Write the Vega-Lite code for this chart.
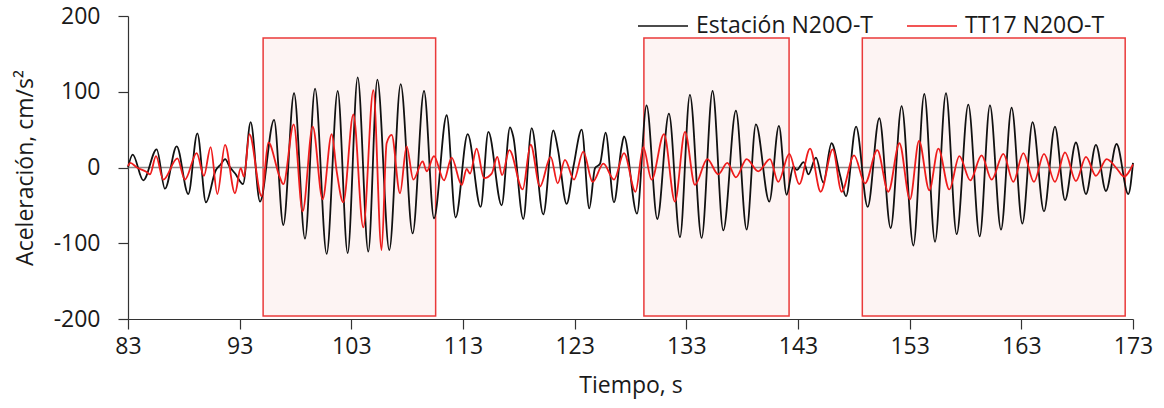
{
  "$schema": "https://vega.github.io/schema/vega-lite/v6.json",
  "width": 1005,
  "height": 303,
  "autosize": {"type": "none"},
  "padding": {"left": 128, "top": 16, "right": 31, "bottom": 89},
  "background": "white",
  "config": {"view": {"stroke": null}, "font": "Open Sans"},
  "datasets": {
    "boxes": [
      {"x0": 95.1, "x1": 110.55, "y0": -196, "y1": 171},
      {"x0": 129.2, "x1": 142.2, "y0": -196, "y1": 171},
      {"x0": 148.76, "x1": 172.3, "y0": -196, "y1": 171}
    ],
    "black": [
      {"t": 83.0, "a": 0}, {"t": 83.42, "a": 17}, {"t": 84.37, "a": -17}, {"t": 85.57, "a": 24},
      {"t": 86.31, "a": -28}, {"t": 87.36, "a": 28}, {"t": 88.4, "a": -35}, {"t": 89.21, "a": 45},
      {"t": 89.98, "a": -46}, {"t": 90.85, "a": -4}, {"t": 91.3, "a": 4}, {"t": 91.7, "a": 11},
      {"t": 92.1, "a": 1}, {"t": 92.6, "a": -8}, {"t": 93.3, "a": -22}, {"t": 93.98, "a": 60},
      {"t": 94.82, "a": -45}, {"t": 96.08, "a": 63}, {"t": 96.91, "a": -76}, {"t": 97.87, "a": 98},
      {"t": 98.85, "a": -94}, {"t": 99.75, "a": 104}, {"t": 100.79, "a": -114}, {"t": 101.78, "a": 101},
      {"t": 102.67, "a": -113}, {"t": 103.57, "a": 119}, {"t": 104.52, "a": -111}, {"t": 105.33, "a": 116},
      {"t": 106.4, "a": -109}, {"t": 107.42, "a": 110}, {"t": 108.49, "a": -87}, {"t": 109.51, "a": 101},
      {"t": 110.4, "a": -67}, {"t": 111.54, "a": 69}, {"t": 112.34, "a": -66}, {"t": 113.42, "a": 44},
      {"t": 114.58, "a": -52}, {"t": 115.27, "a": 47}, {"t": 116.46, "a": -50}, {"t": 117.21, "a": 53},
      {"t": 117.5, "a": 41}, {"t": 118.4, "a": -68}, {"t": 119.15, "a": 52}, {"t": 120.19, "a": -62},
      {"t": 121.09, "a": 49}, {"t": 121.5, "a": 24}, {"t": 122.28, "a": -48}, {"t": 122.9, "a": 2},
      {"t": 123.63, "a": 50}, {"t": 124.31, "a": -54}, {"t": 124.82, "a": -1}, {"t": 125.27, "a": 5},
      {"t": 125.77, "a": 46}, {"t": 126.52, "a": -46}, {"t": 127.2, "a": 27}, {"t": 127.42, "a": 41},
      {"t": 128.58, "a": -61}, {"t": 129.44, "a": 82}, {"t": 130.4, "a": -68}, {"t": 131.44, "a": 71},
      {"t": 132.43, "a": -92}, {"t": 133.32, "a": 96}, {"t": 134.37, "a": -93}, {"t": 135.35, "a": 101},
      {"t": 136.31, "a": -83}, {"t": 137.44, "a": 75}, {"t": 138.4, "a": -82}, {"t": 139.23, "a": 57},
      {"t": 140.43, "a": -45}, {"t": 141.29, "a": 55}, {"t": 141.98, "a": -36}, {"t": 142.58, "a": 1},
      {"t": 142.9, "a": -3}, {"t": 143.5, "a": 7}, {"t": 143.93, "a": -9}, {"t": 144.61, "a": 13},
      {"t": 145.27, "a": -20}, {"t": 146.0, "a": 32}, {"t": 146.76, "a": -10}, {"t": 147.3, "a": -38},
      {"t": 148.2, "a": 54}, {"t": 149.24, "a": -52}, {"t": 150.28, "a": 65}, {"t": 151.3, "a": -80},
      {"t": 152.28, "a": 81}, {"t": 153.33, "a": -103}, {"t": 154.31, "a": 97}, {"t": 155.27, "a": -98},
      {"t": 156.25, "a": 98}, {"t": 157.21, "a": -88}, {"t": 158.25, "a": 83}, {"t": 159.27, "a": -91},
      {"t": 160.19, "a": 82}, {"t": 161.18, "a": -82}, {"t": 162.13, "a": 79}, {"t": 163.09, "a": -74},
      {"t": 164.01, "a": 60}, {"t": 165.03, "a": -58}, {"t": 166.01, "a": 54}, {"t": 166.91, "a": -43},
      {"t": 167.89, "a": 33}, {"t": 168.79, "a": -35}, {"t": 169.68, "a": 30}, {"t": 170.58, "a": -31},
      {"t": 171.53, "a": 31}, {"t": 172.58, "a": -35}, {"t": 173.0, "a": 6}
    ],
    "red": [
      {"t": 83.0, "a": 2}, {"t": 83.2, "a": 6}, {"t": 83.8, "a": 0}, {"t": 84.67, "a": -6},
      {"t": 84.97, "a": -9}, {"t": 85.51, "a": 15}, {"t": 86.16, "a": -16}, {"t": 87.42, "a": 12},
      {"t": 88.1, "a": -16}, {"t": 89.15, "a": 19}, {"t": 89.8, "a": -11}, {"t": 90.4, "a": 27},
      {"t": 91.0, "a": -35}, {"t": 91.69, "a": 30}, {"t": 92.58, "a": -34}, {"t": 93.09, "a": -1},
      {"t": 93.39, "a": -12}, {"t": 93.87, "a": 44}, {"t": 94.97, "a": -38}, {"t": 95.57, "a": 33},
      {"t": 96.55, "a": -11}, {"t": 96.91, "a": -22}, {"t": 97.84, "a": 57}, {"t": 98.64, "a": -58},
      {"t": 99.54, "a": 54}, {"t": 100.43, "a": -42}, {"t": 101.24, "a": 44}, {"t": 101.69, "a": -5},
      {"t": 102.28, "a": -46}, {"t": 103.18, "a": 70}, {"t": 104.07, "a": -79}, {"t": 104.97, "a": 102},
      {"t": 105.71, "a": -109}, {"t": 106.16, "a": 32}, {"t": 106.61, "a": 43}, {"t": 107.36, "a": -34},
      {"t": 107.95, "a": 28}, {"t": 108.55, "a": -16}, {"t": 109.39, "a": 8}, {"t": 109.75, "a": -5},
      {"t": 110.4, "a": 15}, {"t": 111.3, "a": -17}, {"t": 111.98, "a": 13}, {"t": 112.88, "a": -23},
      {"t": 113.33, "a": -2}, {"t": 113.63, "a": -8}, {"t": 114.22, "a": 25}, {"t": 114.88, "a": -14},
      {"t": 115.57, "a": -8}, {"t": 116.07, "a": 14}, {"t": 116.5, "a": -10}, {"t": 117.15, "a": 23},
      {"t": 118.34, "a": -29}, {"t": 119.06, "a": 30}, {"t": 119.89, "a": -25}, {"t": 120.85, "a": 14},
      {"t": 121.48, "a": -21}, {"t": 122.13, "a": 10}, {"t": 122.94, "a": -16}, {"t": 123.77, "a": 21},
      {"t": 124.61, "a": -19}, {"t": 125.57, "a": 5}, {"t": 126.52, "a": -16}, {"t": 127.42, "a": 19},
      {"t": 128.45, "a": -32}, {"t": 129.14, "a": 27}, {"t": 129.89, "a": -16}, {"t": 131.0, "a": 44},
      {"t": 131.98, "a": -45}, {"t": 132.88, "a": 47}, {"t": 133.77, "a": -23}, {"t": 134.88, "a": 11},
      {"t": 135.86, "a": -9}, {"t": 136.67, "a": 6}, {"t": 137.44, "a": -13}, {"t": 138.4, "a": 11},
      {"t": 139.44, "a": -5}, {"t": 140.49, "a": 11}, {"t": 141.23, "a": -19}, {"t": 142.22, "a": 18},
      {"t": 143.11, "a": -22}, {"t": 144.08, "a": 25}, {"t": 145.03, "a": -32}, {"t": 146.11, "a": 24},
      {"t": 146.91, "a": -32}, {"t": 148.02, "a": 16}, {"t": 149.0, "a": -21}, {"t": 150.1, "a": 23},
      {"t": 151.09, "a": -32}, {"t": 152.08, "a": 32}, {"t": 153.03, "a": -42}, {"t": 153.84, "a": 35},
      {"t": 154.76, "a": -30}, {"t": 155.57, "a": 25}, {"t": 156.55, "a": -29}, {"t": 157.45, "a": 15},
      {"t": 158.43, "a": -17}, {"t": 159.44, "a": 16}, {"t": 160.34, "a": -16}, {"t": 161.39, "a": 18},
      {"t": 162.28, "a": -19}, {"t": 163.18, "a": 19}, {"t": 164.13, "a": -19}, {"t": 165.03, "a": 18},
      {"t": 166.01, "a": -19}, {"t": 166.91, "a": 20}, {"t": 167.89, "a": -18}, {"t": 168.79, "a": 14},
      {"t": 169.68, "a": -11}, {"t": 170.64, "a": 11}, {"t": 171.53, "a": -1}, {"t": 172.19, "a": -12},
      {"t": 173.0, "a": 4}
    ]
  },
  "layer": [
    {
      "data": {"name": "boxes"},
      "mark": {"type": "rect", "fill": "#fdf4f3", "stroke": "#ea3a3a", "strokeWidth": 1.5},
      "encoding": {
        "x": {
          "field": "x0", "type": "quantitative",
          "scale": {"domain": [83, 173], "nice": false, "zero": false},
          "axis": {
            "values": [83, 93, 103, 113, 123, 133, 143, 153, 163, 173],
            "grid": false, "tickSize": 10, "tickColor": "#333333", "domainColor": "#333333",
            "tickWidth": 1.2, "domainWidth": 1.2,
            "labelFontSize": 23, "labelColor": "#1a1a1a", "labelPadding": 6, "labelFlush": false,
            "title": "Tiempo, s", "titleFontSize": 23, "titleFontWeight": "normal", "titleColor": "#1a1a1a", "titlePadding": 16
          }
        },
        "x2": {"field": "x1"},
        "y": {
          "field": "y0", "type": "quantitative",
          "scale": {"domain": [-200, 200], "nice": false},
          "axis": {
            "values": [-200, -150, -100, -50, 0, 50, 100, 150, 200],
            "labelExpr": "datum.value % 100 === 0 ? ('' + datum.value) : ''",
            "grid": false, "tickSize": 10, "tickColor": "#333333", "domainColor": "#333333",
            "tickWidth": 1.2, "domainWidth": 1.2,
            "labelFontSize": 23, "labelColor": "#1a1a1a", "labelPadding": 18, "labelFlush": false,
            "title": "Aceleración, cm/s²", "titleFontSize": 23, "titleFontWeight": "normal", "titleColor": "#1a1a1a", "titlePadding": 16
          }
        },
        "y2": {"field": "y1"}
      }
    },
    {
      "data": {"values": [{"z": 0}]},
      "mark": {"type": "rule", "color": "#8c8c8c", "strokeWidth": 1.5},
      "encoding": {"y": {"field": "z", "type": "quantitative"}}
    },
    {
      "data": {"name": "black"},
      "mark": {"type": "line", "interpolate": "monotone", "strokeWidth": 1.8},
      "encoding": {
        "x": {"field": "t", "type": "quantitative"},
        "y": {"field": "a", "type": "quantitative"},
        "color": {
          "datum": "Estación N20O-T", "type": "nominal",
          "scale": {"domain": ["Estación N20O-T", "TT17 N20O-T"], "range": ["#111111", "#ee1c1c"]},
          "legend": {
            "orient": "none", "legendX": 509, "legendY": -16, "direction": "horizontal",
            "title": null, "symbolType": "stroke", "symbolSize": 2500, "symbolStrokeWidth": 1.5,
            "labelFontSize": 23, "labelColor": "#1a1a1a", "labelLimit": 400, "labelOffset": 7,
            "columnPadding": 30, "padding": 0
          }
        }
      }
    },
    {
      "data": {"name": "red"},
      "mark": {"type": "line", "interpolate": "monotone", "strokeWidth": 1.8},
      "encoding": {
        "x": {"field": "t", "type": "quantitative"},
        "y": {"field": "a", "type": "quantitative"},
        "color": {"datum": "TT17 N20O-T", "type": "nominal"}
      }
    }
  ]
}
